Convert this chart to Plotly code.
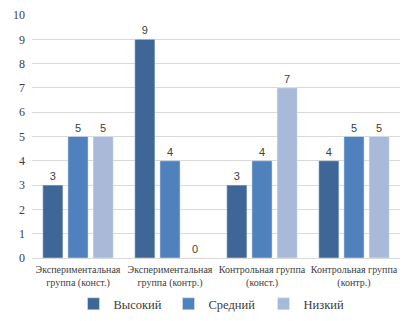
import plotly.graph_objects as go

categories = ["Экспериментальная<br>группа (конст.)", "Экспериментальная<br>группа (контр.)",
              "Контрольная группа<br>(конст.)", "Контрольная группа<br>(контр.)"]
series_names = ["Высокий", "Средний", "Низкий"]
high = [3, 9, 3, 4]
mid = [5, 4, 4, 5]
low = [5, 0, 7, 5]
colors = ["#3E6797", "#4F81BD", "#A8B9DA"]

SERIF = "Liberation Serif, Times New Roman, serif"

fig = go.Figure()
for name, vals, c in zip(series_names, [high, mid, low], colors):
    fig.add_trace(go.Bar(
        x=categories, y=vals, name=name, marker_color=c,
        text=vals, textposition="outside", cliponaxis=False,
        textfont=dict(family="Liberation Sans", size=11, color="#404040"),
    ))

fig.update_layout(
    width=406, height=313,
    margin=dict(l=24, r=14, t=7, b=63, autoexpand=False),
    paper_bgcolor="white", plot_bgcolor="white",
    barmode="group", bargap=0.18, bargroupgap=0.2,
    font=dict(family=SERIF, size=11, color="#404040"),
    showlegend=True,
    legend=dict(orientation="h", x=0.5, xanchor="center", y=-0.19, yanchor="middle",
                font=dict(family=SERIF, size=12.5, color="#404040"),
                itemwidth=30, tracegroupgap=0, entrywidth=50),
    yaxis=dict(range=[0, 10], dtick=1, showgrid=True, gridcolor="#D9D9D9", gridwidth=1.3,
               zeroline=True, zerolinecolor="#D9D9D9", zerolinewidth=1.3,
               tickfont=dict(family=SERIF, size=12, color="#404040"), ticks="", ticklabelstandoff=6),
    xaxis=dict(showline=False, tickangle=0, ticklabelstandoff=4,
               tickfont=dict(family=SERIF, size=10, color="#404040"), ticks=""),
)

fig.write_html("out.html")
